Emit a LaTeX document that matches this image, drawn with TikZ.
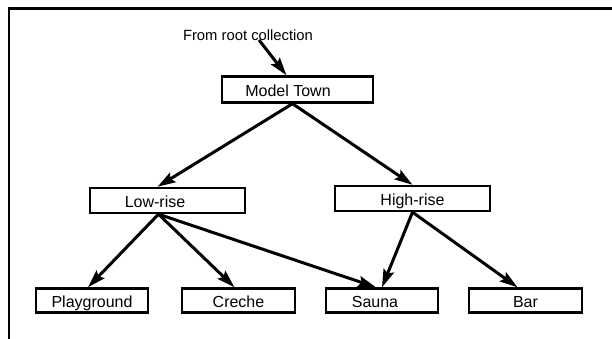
\documentclass[tikz,border=0pt]{standalone}
\usepackage{fontspec}
\setmainfont{Liberation Sans}
\usetikzlibrary{arrows.meta}
\begin{document}
\begin{tikzpicture}[x=1pt,y=-1pt,
  box/.style={draw,line width=2.4pt,inner sep=0pt,minimum height=24pt,
    text height=14pt,text depth=0.6pt,
    font=\fontsize{16}{18}\selectfont},
  conn/.style={line width=3pt,-{Stealth[length=18pt,width=11pt,inset=3pt]}},
  frameline/.style={line width=2.4pt}]
\useasboundingbox (0,0) rectangle (612,339);
\draw[frameline] (9,339) -- (9,8.5) -- (612,8.5);
\node[font=\fontsize{14.8}{17}\selectfont] (lbl) at (248,35) {From root collection};
\coordinate (src) at (259,40);
\node[box,minimum width=151pt,minimum height=26pt] (mt) at (297.5,89.5) {\hspace*{-19pt}Model Town};
\node[box,minimum width=155pt,minimum height=25pt] (lr) at (167.5,200.5) {\hspace*{-25pt}Low-rise};
\node[box,minimum width=155pt,minimum height=25pt] (hr) at (412.5,198.5) {High-rise};
\node[box,minimum width=112pt] (pg) at (92,300.5) {Playground};
\node[box,minimum width=113pt] (cr) at (238.5,300.5) {Creche};
\node[box,minimum width=112pt] (sa) at (382,300.5) {\hspace*{-14pt}Sauna};
\node[box,minimum width=113pt] (ba) at (525.5,300.5) {Bar};
\draw[conn] (src) -- (mt);
\draw[conn] ([xshift=-5pt]mt.south) -- ([xshift=-10pt]lr.north);
\draw[conn] ([xshift=-5pt]mt.south) -- ([xshift=0pt]hr.north);
\draw[conn] ([xshift=-9pt]lr.south) -- ([xshift=-4pt]pg.north);
\draw[conn] ([xshift=-9pt]lr.south) -- ([xshift=-4pt]cr.north);
\draw[conn] ([xshift=-9pt]lr.south) -- ([xshift=-6pt]sa.north);
\draw[conn] ([xshift=0pt]hr.south) -- ([xshift=0pt]sa.north);
\draw[conn] ([xshift=0pt]hr.south) -- ([xshift=-8pt]ba.north);
\end{tikzpicture}
\end{document}
